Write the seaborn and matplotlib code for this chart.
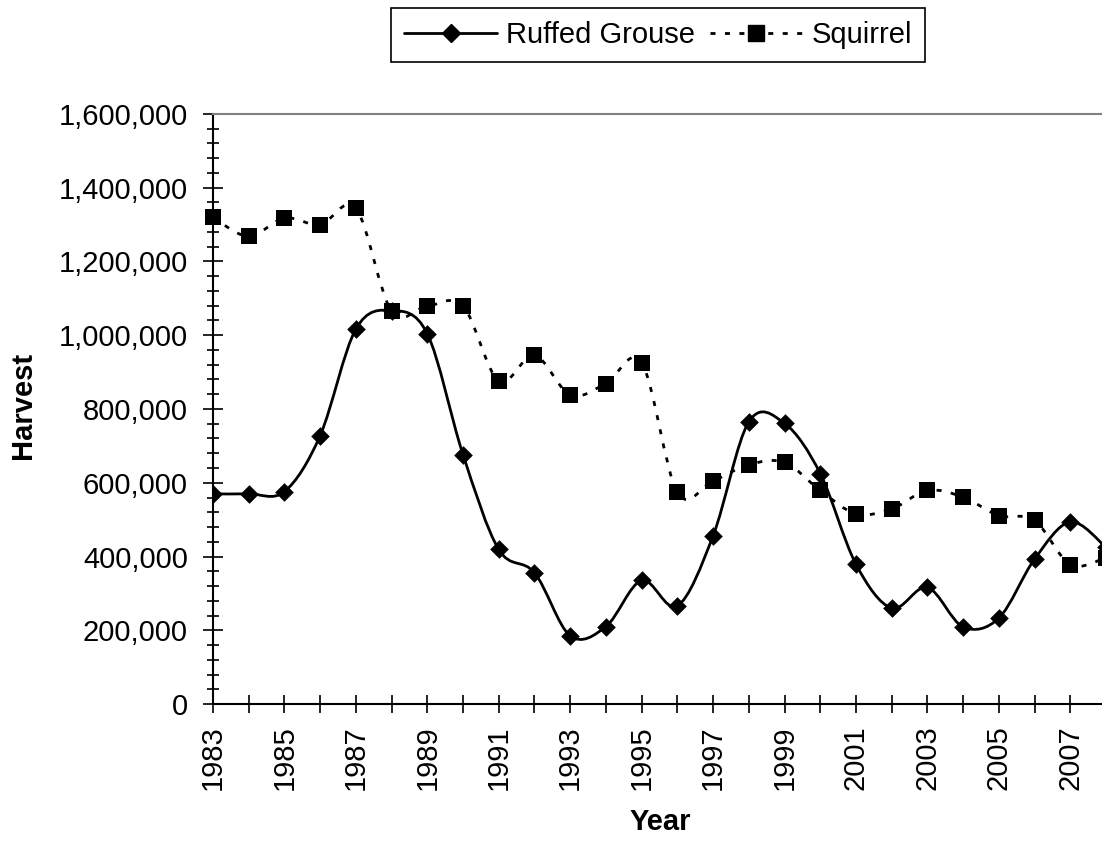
import numpy as np
import pandas as pd
import seaborn as sns
import matplotlib.pyplot as plt
from matplotlib.path import Path
from matplotlib.patches import PathPatch
from matplotlib.lines import Line2D
from matplotlib.ticker import FixedLocator, MultipleLocator, FuncFormatter

years = list(range(1983, 2009))
grouse = [570000, 570000, 576000, 728000, 1017000, 1067000, 1004000, 676000,
          419000, 356000, 185000, 210000, 335000, 266000, 456000, 765000,
          761000, 625000, 379000, 260000, 316000, 209000, 233000, 393000,
          494000, 425000]
squirrel = [1320000, 1268000, 1318000, 1300000, 1344000, 1065000, 1079000,
            1079000, 876000, 946000, 838000, 869000, 926000, 574000, 605000,
            649000, 655000, 579000, 516000, 529000, 579000, 561000, 511000,
            498000, 378000, 397000]

df = pd.DataFrame({"Year": years, "Ruffed Grouse": grouse, "Squirrel": squirrel})


def smooth_path(x, y):
    # excel-like smoothed line: cubic bezier through every point
    p = np.column_stack([np.asarray(x, float), np.asarray(y, float)])
    prev = np.vstack([p[0], p[:-1]])
    nxt = np.vstack([p[1:], p[-1]])
    d = (nxt - prev) / 6.0
    verts = [p[0]]
    codes = [Path.MOVETO]
    for i in range(len(p) - 1):
        verts += [p[i] + d[i], p[i + 1] - d[i + 1], p[i + 1]]
        codes += [Path.CURVE4] * 3
    return Path(verts, codes)


sns.set_style("white")
plt.rcParams["font.family"] = ["Liberation Sans", "DejaVu Sans"]
plt.rcParams["text.color"] = "black"
plt.rcParams["xtick.color"] = "black"
plt.rcParams["ytick.color"] = "black"
FS = 21

fig = plt.figure(figsize=(11.02, 8.42), dpi=100)
W, H = 1102, 842
left, right, top, bottom = 213, 1106, 114, 704
ax = fig.add_axes([left / W, 1 - bottom / H, (right - left) / W, (bottom - top) / H])

# squirrel: dotted smoothed line
sq_dash = (0, (1.8, 3.4))
ax.add_patch(PathPatch(smooth_path(df["Year"], df["Squirrel"]), facecolor="none",
                       edgecolor="black", lw=2, linestyle=sq_dash, zorder=2))
sns.scatterplot(data=df, x="Year", y="Squirrel", marker="s", s=11 ** 2,
                color="black", linewidth=0, ax=ax, zorder=3, clip_on=False)

# grouse: solid smoothed line
ax.add_patch(PathPatch(smooth_path(df["Year"], df["Ruffed Grouse"]), facecolor="none",
                       edgecolor="black", lw=2, zorder=4))
sns.scatterplot(data=df, x="Year", y="Ruffed Grouse", marker="D", s=9.5 ** 2,
                color="black", linewidth=0, ax=ax, zorder=5)

ax.set_xlim(1983, 2008)
ax.set_ylim(0, 1600000)
ax.set_xlabel("")
ax.set_ylabel("")

ax.yaxis.set_major_locator(MultipleLocator(200000))
ax.yaxis.set_minor_locator(MultipleLocator(40000))
ax.yaxis.set_major_formatter(FuncFormatter(lambda v, p: f"{int(v):,}"))
ax.xaxis.set_major_locator(FixedLocator(years))
ax.xaxis.set_major_formatter(FuncFormatter(lambda v, p: str(int(v)) if int(v) % 2 == 1 else ""))

ax.tick_params(axis="y", which="major", direction="inout", length=14, width=1.2,
               pad=11, labelsize=FS, left=True)
ax.tick_params(axis="y", which="minor", direction="inout", length=9, width=1.2, left=True)
ax.tick_params(axis="x", which="major", direction="inout", length=13, width=1.2,
               pad=9, labelsize=FS, labelrotation=90, bottom=True)

for s in ["left", "bottom"]:
    ax.spines[s].set_color("black")
    ax.spines[s].set_linewidth(1.5)
ax.spines["top"].set_color("#808080")
ax.spines["top"].set_linewidth(1.5)
ax.spines["right"].set_visible(False)

fig.text(23 / W, 1 - 405 / H, "Harvest", rotation=90, ha="center", va="center",
         fontsize=FS, fontweight="bold")
fig.text(660 / W, 1 - 822 / H, "Year", ha="center", va="center",
         fontsize=FS, fontweight="bold")

handles = [
    Line2D([], [], color="black", lw=2, marker="D", markersize=9.5),
    Line2D([], [], color="black", lw=2, linestyle=sq_dash, marker="s", markersize=11),
]
leg = fig.legend(handles, ["Ruffed Grouse", "Squirrel"], loc="center",
                 bbox_to_anchor=(658 / W, 1 - 35 / H), ncol=2, fontsize=FS,
                 frameon=True, fancybox=False, framealpha=1, edgecolor="black",
                 handlelength=3.2, handletextpad=0.3, columnspacing=0.5,
                 borderpad=0.45, numpoints=1)
leg.get_frame().set_linewidth(1.2)

fig.savefig("out.png", dpi=100)
